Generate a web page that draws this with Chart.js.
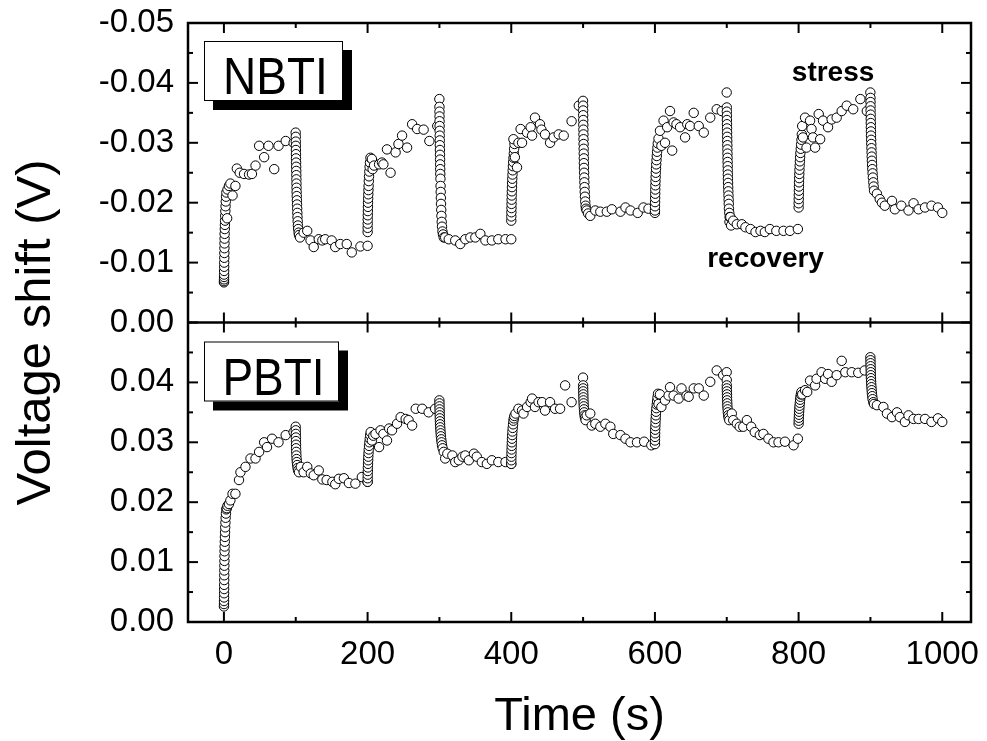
<!DOCTYPE html>
<html><head><meta charset="utf-8">
<script src="https://cdn.jsdelivr.net/npm/chart.js@4/dist/chart.umd.min.js"></script>
<style>html,body{margin:0;padding:0;background:#fff;}canvas{display:block;}</style>
</head><body>
<canvas id="c" width="987" height="741"></canvas>
<script>
// ---- tick values ----
const xTicks = [0, 200, 400, 600, 800, 1000];
const xMinorTicks = [100, 300, 500, 700, 900];
const nbtiTicks = [-0.05, -0.04, -0.03, -0.02, -0.01, 0];
const nbtiMinorTicks = [-0.045, -0.035, -0.025, -0.015, -0.005];
const pbtiTicks = [0, 0.01, 0.02, 0.03, 0.04];
const pbtiMinorTicks = [0.005, 0.015, 0.025, 0.035, 0.045];
const panelLabels = ['NBTI', 'PBTI'];
const phaseLabels = ['stress', 'recovery'];
const xTitle = 'Time (s)';
const yTitle = 'Voltage shift (V)';

// ---- NBTI: [time (s), voltage shift (V)] ----
const nbtiData = [
 [0.05,-0.0067],[0.1,-0.0069],[0.15,-0.0072],[0.2,-0.0076],[0.25,-0.0080],[0.3,-0.0086],[0.35,-0.0093],[0.4,-0.0100],[0.5,-0.0108],[0.6,-0.0116],[0.7,-0.0124],[0.8,-0.0132],[0.9,-0.0140],[1.0,-0.0148],[1.2,-0.0156],[1.4,-0.0163],[1.6,-0.0170],[1.8,-0.0178],[2.0,-0.0186],[2.3,-0.0194],[2.6,-0.0202],[3.0,-0.0210],[3.4,-0.0217],[4.5,-0.0174],[5,-0.0222],[7,-0.0228],[9,-0.0232],[12,-0.0212],[16,-0.0228],[18,-0.0257],[22,-0.0250],[28,-0.0248],[35,-0.0247],[39,-0.0248],[44,-0.0262],[49,-0.0295],[56,-0.0276],[62,-0.0295],[70,-0.0256],[76,-0.0295],[86,-0.0303],[97,-0.0300],
 [99.9,-0.0317],[100.05,-0.0310],[100.1,-0.0302],[100.15,-0.0295],[100.2,-0.0288],[100.3,-0.0281],[100.4,-0.0274],[100.5,-0.0267],[100.6,-0.0260],[100.7,-0.0253],[100.8,-0.0246],[100.9,-0.0239],[101,-0.0232],[101.1,-0.0225],[101.2,-0.0218],[101.4,-0.0211],[101.6,-0.0204],[101.8,-0.0197],[102,-0.0190],[102.2,-0.0183],[102.4,-0.0176],[102.7,-0.0169],[103,-0.0162],[103.4,-0.0156],[104,-0.0150],[104.5,-0.0146],[106,-0.0142],[111,-0.0150],[116,-0.0153],[120.6,-0.0137],[125,-0.0126],[132,-0.0139],[137,-0.0137],[141,-0.0139],[150,-0.0137],[155,-0.0126],[162,-0.0131],[171,-0.0131],[178,-0.0117],[190,-0.0127],[200,-0.0128],
 [200.05,-0.0151],[200.1,-0.0158],[200.15,-0.0165],[200.2,-0.0172],[200.3,-0.0179],[200.4,-0.0186],[200.5,-0.0193],[200.6,-0.0200],[200.8,-0.0207],[201,-0.0214],[201.2,-0.0221],[201.4,-0.0228],[201.7,-0.0236],[202,-0.0244],[202.4,-0.0252],[202.8,-0.0260],[203.3,-0.0267],[204,-0.0275],[206,-0.0273],[207,-0.0256],[209,-0.0262],[216,-0.0264],[220,-0.0267],[222,-0.0264],[227,-0.0289],[232,-0.0250],[239,-0.0284],[243,-0.0298],[248,-0.0312],[255,-0.0292],[262,-0.0331],[269,-0.0323],[278,-0.0322],[286,-0.0303],[297,-0.0328],
 [299.9,-0.0373],[300.05,-0.0360],[300.1,-0.0352],[300.15,-0.0344],[300.2,-0.0336],[300.25,-0.0328],[300.3,-0.0320],[300.4,-0.0312],[300.5,-0.0304],[300.6,-0.0296],[300.7,-0.0288],[300.8,-0.0280],[300.9,-0.0272],[301,-0.0264],[301.1,-0.0256],[301.2,-0.0248],[301.4,-0.0240],[301.6,-0.0228],[301.8,-0.0218],[302,-0.0208],[302.2,-0.0198],[302.5,-0.0188],[302.8,-0.0178],[303.2,-0.0168],[303.6,-0.0160],[304.2,-0.0152],[305,-0.0147],[306,-0.0142],[308,-0.0142],[313,-0.0139],[322,-0.0137],[329,-0.0131],[336,-0.0139],[343,-0.0142],[350,-0.0142],[357,-0.0148],[364,-0.0137],[373,-0.0137],[382,-0.0139],[392,-0.0139],[400,-0.0139],
 [400.05,-0.0170],[400.1,-0.0177],[400.2,-0.0184],[400.3,-0.0191],[400.4,-0.0198],[400.5,-0.0205],[400.6,-0.0212],[400.8,-0.0219],[401,-0.0226],[401.2,-0.0233],[401.4,-0.0240],[401.7,-0.0247],[402,-0.0254],[402.3,-0.0261],[402.7,-0.0268],[403.1,-0.0275],[403.6,-0.0282],[404,-0.0290],[404.5,-0.0298],[403,-0.0306],[405,-0.0276],[408,-0.0259],[410,-0.0300],[413,-0.0323],[415,-0.0300],[422,-0.0317],[427,-0.0326],[429,-0.0312],[433,-0.0342],[440,-0.0331],[442,-0.0322],[447,-0.0314],[454,-0.0300],[459,-0.0309],[466,-0.0314],[473,-0.0312],[484,-0.0336],[494,-0.0362],
 [499.9,-0.0370],[500.05,-0.0362],[500.1,-0.0354],[500.15,-0.0346],[500.2,-0.0338],[500.3,-0.0330],[500.4,-0.0322],[500.5,-0.0314],[500.6,-0.0306],[500.7,-0.0298],[500.8,-0.0290],[500.9,-0.0282],[501,-0.0274],[501.1,-0.0266],[501.2,-0.0258],[501.4,-0.0250],[501.6,-0.0242],[501.8,-0.0234],[502,-0.0226],[502.3,-0.0218],[502.6,-0.0210],[503,-0.0202],[503.5,-0.0195],[504,-0.0190],[505,-0.0187],[507,-0.0182],[510,-0.0178],[517,-0.0187],[524,-0.0185],[533,-0.0185],[540,-0.0189],[552,-0.0185],[559,-0.0192],[566,-0.0187],[576,-0.0183],[584,-0.0192],[591,-0.0190],[600,-0.0183],
 [600.05,-0.0187],[600.1,-0.0194],[600.2,-0.0201],[600.3,-0.0208],[600.4,-0.0215],[600.5,-0.0222],[600.6,-0.0229],[600.8,-0.0236],[601,-0.0243],[601.2,-0.0250],[601.5,-0.0257],[601.8,-0.0264],[602.2,-0.0271],[602.6,-0.0278],[603,-0.0285],[603.5,-0.0292],[604,-0.0299],[605,-0.0307],[607,-0.0320],[609,-0.0295],[612,-0.0337],[614,-0.0300],[617,-0.0326],[621,-0.0353],[624,-0.0287],[626,-0.0334],[630,-0.0331],[635,-0.0326],[642,-0.0309],[645,-0.0331],[649,-0.0328],[654,-0.0350],[661,-0.0328],[668,-0.0317],[677,-0.0342],[686,-0.0356],[693,-0.0353],
 [699.9,-0.0384],[700.05,-0.0359],[700.1,-0.0352],[700.15,-0.0345],[700.2,-0.0338],[700.3,-0.0331],[700.4,-0.0324],[700.5,-0.0317],[700.6,-0.0310],[700.7,-0.0303],[700.8,-0.0296],[700.9,-0.0289],[701,-0.0282],[701.1,-0.0275],[701.2,-0.0268],[701.3,-0.0261],[701.4,-0.0254],[701.5,-0.0247],[701.6,-0.0240],[701.8,-0.0233],[702,-0.0226],[702.2,-0.0219],[702.4,-0.0212],[702.6,-0.0205],[702.8,-0.0198],[703,-0.0190],[703.5,-0.0183],[703.8,-0.0168],[704,-0.0176],[705,-0.0176],[706,-0.0162],[709,-0.0170],[714,-0.0164],[721,-0.0164],[726,-0.0159],[733,-0.0156],[740,-0.0151],[747,-0.0153],[753,-0.0151],[760,-0.0156],[769,-0.0153],[779,-0.0153],[788,-0.0153],[799,-0.0156],
 [800.05,-0.0192],[800.1,-0.0199],[800.2,-0.0206],[800.3,-0.0213],[800.4,-0.0220],[800.5,-0.0227],[800.6,-0.0234],[800.8,-0.0241],[801,-0.0248],[801.2,-0.0255],[801.5,-0.0262],[801.8,-0.0269],[802.1,-0.0276],[802.5,-0.0283],[803,-0.0290],[803.5,-0.0297],[804,-0.0305],[804.5,-0.0314],[805,-0.0328],[806,-0.0309],[809,-0.0342],[811,-0.0292],[816,-0.0337],[818,-0.0323],[820,-0.0309],[823,-0.0292],[828,-0.0348],[830,-0.0306],[834,-0.0337],[841,-0.0326],[846,-0.0339],[853,-0.0342],[860,-0.0353],[867,-0.0362],[876,-0.0356],[886,-0.0373],[895,-0.0353],
 [899.9,-0.0384],[900.05,-0.0375],[900.1,-0.0368],[900.15,-0.0361],[900.2,-0.0354],[900.3,-0.0347],[900.4,-0.0340],[900.5,-0.0333],[900.6,-0.0326],[900.7,-0.0319],[900.8,-0.0312],[901,-0.0305],[901.2,-0.0298],[901.4,-0.0291],[901.6,-0.0284],[901.8,-0.0277],[902,-0.0270],[902.3,-0.0263],[902.6,-0.0256],[903,-0.0249],[903.4,-0.0242],[904,-0.0234],[904.5,-0.0227],[905,-0.0220],[909,-0.0215],[913,-0.0206],[916,-0.0200],[920,-0.0195],[930,-0.0203],[934,-0.0189],[943,-0.0195],[953,-0.0187],[960,-0.0199],[967,-0.0189],[976,-0.0192],[985,-0.0195],[994,-0.0192],[1000,-0.0183]
];

// ---- PBTI: [time (s), voltage shift (V)] ----
const pbtiData = [
 [0.05,0.0026],[0.1,0.0030],[0.15,0.0035],[0.2,0.0041],[0.25,0.0048],[0.3,0.0055],[0.35,0.0062],[0.4,0.0070],[0.45,0.0078],[0.5,0.0086],[0.6,0.0094],[0.7,0.0102],[0.8,0.0110],[0.9,0.0118],[1.0,0.0126],[1.2,0.0134],[1.4,0.0142],[1.6,0.0150],[1.8,0.0158],[2.1,0.0166],[2.4,0.0174],[2.8,0.0181],[3.3,0.0188],[4,0.0190],[5,0.0194],[7,0.0197],[9,0.0203],[12,0.0214],[16,0.0214],[21,0.0237],[23,0.0250],[30,0.0259],[37,0.0273],[44,0.0273],[49,0.0284],[56,0.0300],[60,0.0292],[67,0.0306],[76,0.0300],[86,0.0312],[97,0.0317],
 [99.9,0.0326],[100.05,0.0320],[100.1,0.0314],[100.2,0.0308],[100.3,0.0302],[100.4,0.0296],[100.5,0.0290],[100.7,0.0284],[100.9,0.0278],[101.2,0.0272],[101.5,0.0267],[102,0.0262],[102.6,0.0257],[103.3,0.0253],[104.5,0.0250],[107,0.0259],[111,0.0250],[116,0.0259],[121,0.0248],[125,0.0245],[132,0.0253],[137,0.0238],[143,0.0237],[151,0.0234],[155,0.0230],[160,0.0239],[167,0.0240],[174,0.0232],[183,0.0231],[192,0.0242],[200,0.0234],
 [200.05,0.0234],[200.1,0.0240],[200.2,0.0246],[200.3,0.0252],[200.4,0.0258],[200.6,0.0264],[200.8,0.0270],[201,0.0276],[201.3,0.0282],[201.6,0.0288],[202,0.0294],[202.5,0.0300],[203,0.0306],[203.6,0.0312],[204.3,0.0317],[206,0.0303],[208,0.0311],[211,0.0314],[216,0.0292],[218,0.0320],[222,0.0314],[227,0.0303],[230,0.0323],[234,0.0320],[241,0.0331],[246,0.0342],[253,0.0339],[257,0.0337],[262,0.0328],[267,0.0356],[276,0.0356],[285,0.0350],[294,0.0356],
 [299.9,0.0370],[300.05,0.0365],[300.1,0.0360],[300.2,0.0355],[300.3,0.0350],[300.4,0.0345],[300.5,0.0340],[300.7,0.0335],[300.9,0.0330],[301.1,0.0325],[301.4,0.0320],[301.7,0.0315],[302,0.0310],[302.5,0.0305],[303,0.0300],[303.6,0.0295],[304.5,0.0290],[306,0.0284],[308,0.0273],[311,0.0281],[318,0.0278],[322,0.0267],[327,0.0270],[332,0.0276],[336,0.0278],[341,0.0270],[348,0.0281],[352,0.0276],[359,0.0267],[366,0.0264],[373,0.0270],[382,0.0267],[392,0.0267],[400,0.0264],
 [400.05,0.0264],[400.1,0.0270],[400.2,0.0276],[400.3,0.0282],[400.4,0.0288],[400.6,0.0294],[400.8,0.0300],[401,0.0306],[401.3,0.0312],[401.6,0.0318],[402,0.0324],[402.5,0.0330],[403,0.0336],[403.6,0.0340],[404.3,0.0344],[406,0.0348],[410,0.0356],[415,0.0353],[417,0.0348],[422,0.0359],[427,0.0367],[429,0.0373],[433,0.0359],[438,0.0367],[443,0.0367],[447,0.0353],[454,0.0367],[461,0.0356],[468,0.0356],[475,0.0395],[484,0.0367],
 [499.9,0.0408],[500.05,0.0395],[500.1,0.0390],[500.2,0.0385],[500.3,0.0380],[500.4,0.0375],[500.5,0.0370],[500.7,0.0365],[500.9,0.0360],[501.2,0.0355],[501.5,0.0350],[502,0.0345],[502.6,0.0341],[503.5,0.0337],[505,0.0345],[510,0.0348],[512,0.0328],[517,0.0331],[524,0.0326],[531,0.0331],[538,0.0326],[542,0.0314],[552,0.0312],[559,0.0306],[566,0.0300],[575,0.0300],[585,0.0301],[595,0.0295],
 [600.05,0.0297],[600.1,0.0303],[600.2,0.0309],[600.3,0.0315],[600.4,0.0321],[600.6,0.0327],[600.8,0.0333],[601,0.0339],[601.3,0.0345],[601.6,0.0351],[602,0.0357],[602.5,0.0363],[603,0.0369],[603.6,0.0375],[604.3,0.0381],[605,0.0364],[607,0.0380],[609,0.0359],[614,0.0370],[619,0.0378],[621,0.0392],[626,0.0378],[633,0.0373],[637,0.0390],[644,0.0378],[647,0.0376],[654,0.0390],[661,0.0390],[668,0.0378],[677,0.0401],[686,0.0420],[695,0.0412],
 [699.9,0.0417],[700,0.0404],[700.05,0.0395],[700.1,0.0390],[700.2,0.0385],[700.3,0.0380],[700.4,0.0375],[700.5,0.0370],[700.7,0.0365],[700.9,0.0360],[701.2,0.0355],[701.5,0.0350],[702,0.0345],[702.6,0.0341],[703.5,0.0337],[707,0.0348],[709,0.0337],[714,0.0331],[718,0.0326],[723,0.0326],[728,0.0337],[734,0.0326],[739,0.0317],[746,0.0312],[751,0.0314],[758,0.0306],[765,0.0300],[772,0.0300],[781,0.0301],[793,0.0295],[799,0.0306],
 [800.05,0.0331],[800.15,0.0336],[800.3,0.0341],[800.5,0.0346],[800.7,0.0351],[801,0.0356],[801.3,0.0361],[801.7,0.0366],[802.1,0.0371],[802.6,0.0376],[803.2,0.0380],[804,0.0384],[805,0.0380],[809,0.0387],[812,0.0384],[816,0.0403],[823,0.0395],[825,0.0406],[832,0.0417],[837,0.0406],[841,0.0414],[846,0.0401],[853,0.0412],[860,0.0436],[865,0.0417],[874,0.0417],[883,0.0416],[892,0.0420],
 [899.9,0.0442],[900.05,0.0437],[900.1,0.0432],[900.2,0.0427],[900.3,0.0422],[900.4,0.0417],[900.5,0.0412],[900.7,0.0407],[900.9,0.0402],[901.1,0.0397],[901.4,0.0392],[901.7,0.0387],[902,0.0382],[902.5,0.0377],[903,0.0372],[904,0.0367],[905,0.0364],[909,0.0362],[918,0.0359],[923,0.0348],[930,0.0342],[937,0.0350],[941,0.0342],[948,0.0334],[953,0.0345],[960,0.0339],[967,0.0339],[976,0.0339],[985,0.0334],[994,0.0340],[1000,0.0334]
];

const FONT = "'Liberation Sans', Arial, Helvetica, sans-serif";
const toPoints = arr => arr.map(p => ({x: p[0], y: p[1]}));
const fmt2 = v => (Math.abs(v) < 1e-9 ? 0 : v).toFixed(2);

const pointStyle = {
  pointRadius: 4.7, pointHoverRadius: 4.7, pointBorderWidth: 1,
  pointBackgroundColor: '#ffffff', pointBorderColor: '#000000', showLine: false
};

const yCommon = {
  type: 'linear', position: 'left', stack: 'panels', stackWeight: 1, offset: false,
  grid: {display: false, drawTicks: false}, border: {display: false},
  ticks: {font: {family: FONT, size: 33}, color: '#000', padding: 14, autoSkip: false, callback: v => fmt2(v)},
  afterFit: s => { s.width = 188; s.paddingTop = 0; s.paddingBottom = 0; }
};

const framePlugin = {
  id: 'frame',
  afterDatasetsDraw(chart) {
    const ctx = chart.ctx, ca = chart.chartArea;
    const sx = chart.scales.x, st = chart.scales.yTop, sb = chart.scales.yBot;
    ctx.save();
    ctx.strokeStyle = '#000';
    ctx.lineWidth = 2.5;
    ctx.strokeRect(ca.left, ca.top, ca.right - ca.left, ca.bottom - ca.top);
    ctx.beginPath(); ctx.moveTo(ca.left, st.bottom); ctx.lineTo(ca.right, st.bottom); ctx.stroke();
    ctx.lineWidth = 2;
    const seg = (x1, y1, x2, y2) => { ctx.beginPath(); ctx.moveTo(x1, y1); ctx.lineTo(x2, y2); ctx.stroke(); };
    const xt = (vals, len) => vals.forEach(v => {
      const px = sx.getPixelForValue(v);
      seg(px, st.top, px, st.top + len);
      seg(px, st.bottom, px, st.bottom - len);
      seg(px, sb.top, px, sb.top + len);
      seg(px, sb.bottom, px, sb.bottom - len);
    });
    xt(xTicks, 10); xt(xMinorTicks, 5);
    const yt = (scale, vals, len) => vals.forEach(v => {
      const py = scale.getPixelForValue(v);
      seg(ca.left, py, ca.left + len, py);
      seg(ca.right, py, ca.right - len, py);
    });
    yt(st, nbtiTicks, 10); yt(st, nbtiMinorTicks, 5);
    yt(sb, pbtiTicks, 10); yt(sb, pbtiMinorTicks, 5);

    // panel label boxes with drop shadow
    const box = (label, top, w) => {
      const left = ca.left + 16, h = 60, off = 9;
      ctx.fillStyle = '#000';
      ctx.fillRect(left + off, top + off, w, h);
      ctx.fillStyle = '#fff';
      ctx.fillRect(left, top, w, h);
      ctx.lineWidth = 1;
      ctx.strokeRect(left + 0.5, top + 0.5, w - 1, h - 1);
      ctx.save();
      ctx.translate(left + w / 2 + 2, top + h - 7);
      ctx.scale(1, 1.14);
      ctx.fillStyle = '#000';
      ctx.font = '46px ' + FONT;
      ctx.textAlign = 'center'; ctx.textBaseline = 'alphabetic';
      ctx.fillText(label, 0, 0);
      ctx.restore();
    };
    box(panelLabels[0], st.top + 18, 139);
    box(panelLabels[1], sb.top + 19, 135);

    // phase annotations
    ctx.fillStyle = '#000';
    ctx.font = 'bold 28px ' + FONT;
    ctx.textAlign = 'center'; ctx.textBaseline = 'alphabetic';
    ctx.fillText(phaseLabels[0], sx.getPixelForValue(848), st.getPixelForValue(-0.0403));
    ctx.fillText(phaseLabels[1], sx.getPixelForValue(754), st.getPixelForValue(-0.0093));

    // y axis title
    ctx.save();
    ctx.translate(50, (ca.top + ca.bottom) / 2 + 10);
    ctx.rotate(-Math.PI / 2);
    ctx.font = '49px ' + FONT;
    ctx.textAlign = 'center'; ctx.textBaseline = 'alphabetic';
    ctx.fillText(yTitle, 0, 0);
    ctx.restore();
    ctx.restore();
  }
};

new Chart(document.getElementById('c'), {
  type: 'scatter',
  data: {
    datasets: [
      Object.assign({label: panelLabels[1], data: toPoints(pbtiData), yAxisID: 'yBot'}, pointStyle),
      Object.assign({label: panelLabels[0], data: toPoints(nbtiData), yAxisID: 'yTop'}, pointStyle)
    ]
  },
  options: {
    responsive: false, animation: false, devicePixelRatio: 1, events: [],
    layout: {padding: {top: 23, right: 16, left: 0, bottom: 0}},
    plugins: {legend: {display: false}, tooltip: {enabled: false}},
    scales: {
      x: {
        type: 'linear', position: 'bottom', min: -50, max: 1040,
        afterBuildTicks: s => { s.ticks = xTicks.map(v => ({value: v})); },
        afterFit: s => { s.height = 119; s.paddingLeft = 0; s.paddingRight = 0; },
        grid: {display: false, drawTicks: false}, border: {display: false},
        ticks: {font: {family: FONT, size: 33}, color: '#000', padding: 13, maxRotation: 0, autoSkip: false, callback: v => String(v)},
        title: {display: true, text: xTitle, color: '#000', font: {family: FONT, size: 47, lineHeight: 1}, padding: {top: 0, bottom: 0}}
      },
      yBot: Object.assign({}, yCommon, {
        min: 0, max: 0.05, weight: 1,
        afterBuildTicks: s => { s.ticks = pbtiTicks.map(v => ({value: v})); }
      }),
      yTop: Object.assign({}, yCommon, {
        min: -0.05, max: 0, reverse: true, weight: 2,
        afterBuildTicks: s => { s.ticks = nbtiTicks.map(v => ({value: v})); }
      })
    }
  },
  plugins: [framePlugin]
});
</script>
</body></html>
